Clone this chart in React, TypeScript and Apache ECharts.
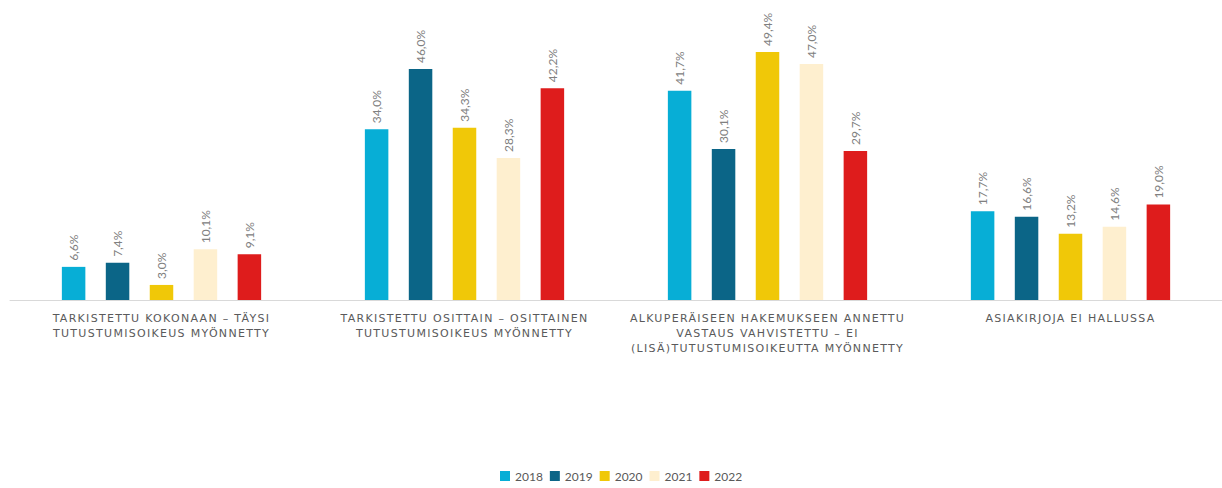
import React, { useEffect, useRef } from "react";
import * as echarts from "echarts";

const categories = [
  "TARKISTETTU KOKONAAN – TÄYSI\nTUTUSTUMISOIKEUS MYÖNNETTY",
  "TARKISTETTU OSITTAIN – OSITTAINEN\nTUTUSTUMISOIKEUS MYÖNNETTY",
  "ALKUPERÄISEEN HAKEMUKSEEN ANNETTU\nVASTAUS VAHVISTETTU – EI\n(LISÄ)TUTUSTUMISOIKEUTTA MYÖNNETTY",
  "ASIAKIRJOJA EI HALLUSSA",
];
const years = ["2018", "2019", "2020", "2021", "2022"];
const colors = ["#07AED6", "#0B6587", "#F0C808", "#FEEFCF", "#DE1C1C"];
const v2018 = [6.6, 34.0, 41.7, 17.7];
const v2019 = [7.4, 46.0, 30.1, 16.6];
const v2020 = [3.0, 34.3, 49.4, 13.2];
const v2021 = [10.1, 28.3, 47.0, 14.6];
const v2022 = [9.1, 42.2, 29.7, 19.0];
const seriesValues = [v2018, v2019, v2020, v2021, v2022];

const AXIS_LABEL_COLOR = "#5a5a5b";

export default function App() {
  const ref = useRef<HTMLDivElement>(null);
  useEffect(() => {
    if (!ref.current) return;
    const chart = echarts.init(ref.current, null, { renderer: "svg" });
    chart.setOption({
      animation: false,
      grid: { left: 10, right: 0, top: 49, bottom: 188, containLabel: false },
      legend: {
        bottom: 1,
        left: 495,
        itemWidth: 10,
        itemHeight: 10,
        itemGap: 7,
        icon: "rect",
        textStyle: { color: "#595959", fontSize: 12, fontFamily: "Lato" },
        data: years,
      },
      xAxis: {
        type: "category",
        data: categories,
        axisLine: { lineStyle: { color: "#D9D9D9" } },
        axisTick: { show: false },
        axisLabel: {
          interval: 0,
          color: AXIS_LABEL_COLOR,
          fontSize: 11,
          fontFamily: "DejaVu Sans",
          lineHeight: 15,
          margin: 11,
        },
      },
      yAxis: {
        type: "value",
        min: 0,
        max: 50,
        show: false,
        splitLine: { show: false },
      },
      series: years.map((y, i) => ({
        name: y,
        type: "bar",
        data: seriesValues[i],
        barWidth: 23.5,
        barGap: "87%",
        itemStyle: { color: colors[i] },
        label: {
          show: true,
          position: "top",
          rotate: 90,
          align: "left",
          verticalAlign: "middle",
          distance: 6,
          color: "#808080",
          fontSize: 12,
          fontFamily: "Lato",
          formatter: (p: any) => p.value.toFixed(1).replace(".", ",") + "%",
        },
      })),
    });
    return () => chart.dispose();
  }, []);
  return (
    <>
      <style>{`#chartbox text[fill="${AXIS_LABEL_COLOR}" i] { letter-spacing: 1.3px; }`}</style>
      <div
        id="chartbox"
        ref={ref}
        style={{ position: "fixed", left: 0, top: 0, width: 1222, height: 488, background: "#fff" }}
      />
    </>
  );
}
